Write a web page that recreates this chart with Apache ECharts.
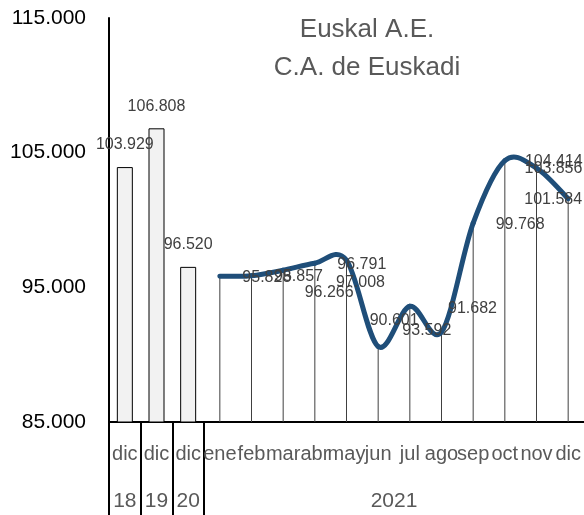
<!DOCTYPE html>
<html>
<head>
<meta charset="utf-8">
<script src="https://cdn.jsdelivr.net/npm/echarts@6/dist/echarts.min.js"></script>
<style>
  html, body { margin: 0; padding: 0; background: #fff; }
  #chart { width: 584px; height: 515px; }
</style>
</head>
<body>
<div id="chart"></div>
<script>
  // meses en el eje
  var months = ['dic', 'dic', 'dic', 'ene', 'feb', 'mar', 'abr', 'may', 'jun', 'jul', 'ago', 'sep', 'oct', 'nov', 'dic'];
  // años (etiqueta y cuantos meses abarca)
  var yearLabels = ['18', '19', '20', '2021'];
  var yearSpans = [1, 1, 1, 12];
  // diciembres de años anteriores
  var prevDec = [103929, 106808, 96520];
  // 2021 mensual
  var monthly2021 = [95828, 95857, 96266, 96791, 97008, 90601, 93592, 91682, 99768, 104414, 103856, 101584];
  var yTicks = [85000, 95000, 105000, 115000];

  // desplazamiento de las etiquetas de la linea (como en el excel)
  var lineLabelNudge = [[47, 1], [47, 1], [46, 22], [47, 1], [14, 22], [16, -26], [17, 24], [31, -23], [47, 1], [49, 1], [17, 1], [-15, 1]];

  function fmt(v) {
    return String(v).replace(/\B(?=(\d{3})+(?!\d))/g, '.');
  }

  var first = prevDec.length;
  var pad = monthly2021.map(function () { return '-'; });
  var barData = prevDec.concat(pad);
  var dropData = prevDec.map(function () { return '-'; }).concat(monthly2021);
  var lineData = prevDec.map(function () { return '-'; }).concat(monthly2021.map(function (v, i) {
    return {
      value: v,
      label: { offset: lineLabelNudge[i] }
    };
  }));
  // tramos de la curva suavizada (tipo excel)
  var segData = monthly2021.slice(0, -1).map(function (v, i) { return [first + i, v]; });

  // posiciones de separadores y etiquetas de año
  var yearEdges = [0];
  var yearCenters = [];
  var acc = 0;
  yearSpans.forEach(function (s) {
    yearCenters.push(acc + s / 2);
    acc += s;
    yearEdges.push(acc);
  });
  var yearMap = {};
  yearCenters.forEach(function (c, i) { yearMap[c] = yearLabels[i]; });

  var font = 'Liberation Sans';

  function renderSeg(params, api) {
    var i = params.dataIndex;
    var n = monthly2021.length;
    function pt(k) {
      k = Math.max(0, Math.min(n - 1, k));
      return api.coord([first + k, monthly2021[k]]);
    }
    var p0 = pt(i - 1), p1 = pt(i), p2 = pt(i + 1), p3 = pt(i + 2);
    var t = 1 / 6;
    return {
      type: 'bezierCurve',
      shape: {
        x1: p1[0], y1: p1[1],
        x2: p2[0], y2: p2[1],
        cpx1: p1[0] + (p2[0] - p0[0]) * t,
        cpy1: p1[1] + (p2[1] - p0[1]) * t,
        cpx2: p2[0] - (p3[0] - p1[0]) * t,
        cpy2: p2[1] - (p3[1] - p1[1]) * t
      },
      style: { fill: null, stroke: '#1f4e79', lineWidth: 5, lineCap: 'round' }
    };
  }

  var option = {
    animation: false,
    title: {
      text: 'Euskal A.E.\nC.A. de Euskadi',
      left: 362,
      top: 6,
      textAlign: 'center',
      textStyle: {
        fontFamily: font,
        fontSize: 26,
        fontWeight: 'normal',
        color: '#595959',
        lineHeight: 38
      }
    },
    grid: { left: 109, right: -5, top: 18, bottom: 93 },
    xAxis: [
      {
        type: 'category',
        data: months,
        axisLine: { lineStyle: { color: '#000', width: 2 } },
        axisTick: { show: false },
        axisLabel: {
          interval: 0,
          hideOverlap: false,
          margin: 22,
          fontFamily: font,
          fontSize: 20,
          color: '#595959'
        },
        splitLine: { show: false }
      },
      {
        type: 'category',
        data: months,
        show: false
      },
      {
        type: 'value',
        min: 0,
        max: months.length,
        position: 'bottom',
        axisLine: { show: false },
        axisTick: {
          show: true,
          customValues: yearEdges.slice(0, yearEdges.length - 1),
          length: 93,
          lineStyle: { color: '#000', width: 2 }
        },
        axisLabel: {
          customValues: yearCenters,
          margin: 69,
          fontFamily: font,
          fontSize: 21,
          color: '#595959',
          formatter: function (v) { return yearMap[v] || ''; }
        },
        splitLine: { show: false }
      }
    ],
    yAxis: {
      type: 'value',
      min: yTicks[0],
      max: yTicks[yTicks.length - 1],
      interval: yTicks[1] - yTicks[0],
      axisLine: { show: true, lineStyle: { color: '#000', width: 2 } },
      axisTick: { show: false },
      splitLine: { show: false },
      axisLabel: {
        margin: 23,
        fontFamily: font,
        fontSize: 21,
        color: '#000',
        formatter: fmt
      }
    },
    series: [
      {
        name: 'dic',
        type: 'bar',
        xAxisIndex: 0,
        data: barData,
        barWidth: 16,
        itemStyle: { color: '#f2f2f2', borderColor: '#000', borderWidth: 1 },
        label: {
          show: true,
          position: 'top',
          distance: 14,
          fontFamily: font,
          fontSize: 16,
          color: '#404040',
          formatter: function (p) { return fmt(p.value); }
        }
      },
      {
        name: 'drop',
        type: 'bar',
        xAxisIndex: 1,
        data: dropData,
        barWidth: 1,
        itemStyle: { color: '#404040' }
      },
      {
        name: 'curva',
        type: 'custom',
        xAxisIndex: 0,
        data: segData,
        encode: { x: 0, y: 1 },
        renderItem: renderSeg,
        z: 5
      },
      {
        name: '2021',
        type: 'line',
        xAxisIndex: 0,
        data: lineData,
        symbol: 'circle',
        symbolSize: 1,
        z: 6,
        lineStyle: { width: 0, opacity: 0 },
        itemStyle: { color: '#1f4e79' },
        label: {
          show: true,
          position: 'inside',
          fontFamily: font,
          fontSize: 16,
          color: '#404040',
          formatter: function (p) { return fmt(p.value); }
        }
      }
    ]
  };

  var myChart = echarts.init(document.getElementById('chart'));
  myChart.setOption(option);
</script>
</body>
</html>
